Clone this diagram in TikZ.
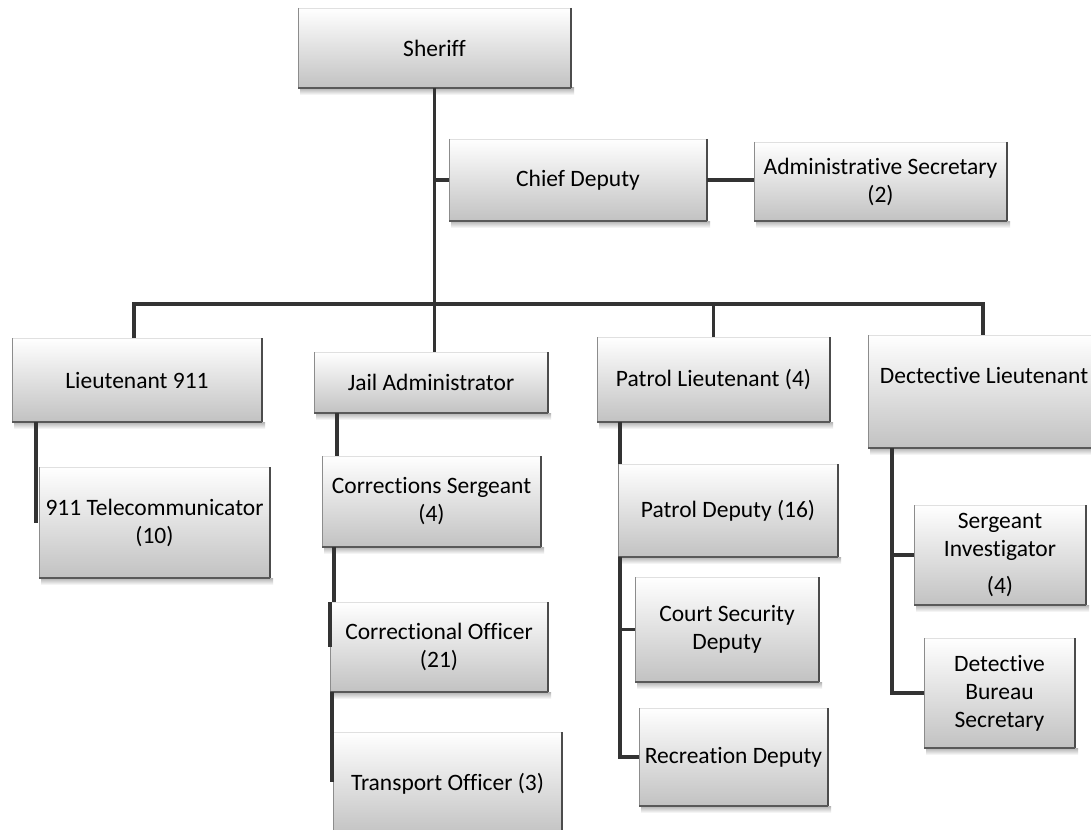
\documentclass[tikz,border=0pt]{standalone}
\usepackage{fontspec}
\setmainfont{Carlito}[Ligatures=NoCommon]
\tikzset{
  orgnode/.style={rectangle, inner sep=0pt, outer sep=0pt, align=center,
    top color=white, bottom color=black!24,
    font=\fontsize{23.5}{28}\selectfont, text=black},
  conn/.style={draw=black!80, line width=3.5pt},
  edgeR/.style={draw=black!70, line width=1.3pt},
  edgeL/.style={draw=black!45, line width=0.9pt},
  edgeT/.style={draw=black!12, line width=0.6pt},
  edgeB/.style={draw=black!65, line width=1.6pt},
  shadowband/.style={top color=black!30, bottom color=white},
}
\newcommand\orgbox[6]{%
  \shade[shadowband] (#2+2,#5) rectangle (#4+3,#5+7);
  \node[orgnode, minimum width={(#4-#2)*1pt}, minimum height={(#5-#3)*1pt}] (#1) at ({(#2+#4)/2},{(#3+#5)/2}) {#6};
  \draw[edgeT] (#1.north west) -- (#1.north east);
  \draw[edgeL] (#1.north west) -- (#1.south west);
  \draw[edgeR] (#1.north east) -- (#1.south east);
  \draw[edgeB] (#1.south west) -- (#1.south east);
}
\begin{document}
\begin{tikzpicture}[x=1pt,y=-1pt]
\useasboundingbox (0,0) rectangle (1091,829);
\clip (0,0) rectangle (1091,829);
\fill[white] (0,0) rectangle (1091,829);

\orgbox{sheriff}{298}{8}{571}{88}{Sheriff}
\orgbox{chief}{449}{139}{707}{221}{Chief Deputy}
\orgbox{admin}{754}{142}{1007}{221}{Administrative Secretary\\(2)}
\orgbox{lt911}{12}{338}{262}{422}{Lieutenant 911}
\orgbox{jail}{314}{352}{548}{413}{Jail Administrator}
\orgbox{patrol}{597}{337}{830}{422}{Patrol Lieutenant (4)}
\orgbox{det}{868}{335}{1100}{448}{Dectective Lieutenant\\\phantom{(}}
\orgbox{tele}{39}{467}{270}{578}{911 Telecommunicator\\(10)}
\orgbox{corrsgt}{322}{456}{541}{547}{Corrections Sergeant\\(4)}
\orgbox{corroff}{330}{602}{548}{692}{Correctional Officer\\(21)}
\orgbox{transport}{333}{732}{562}{836}{Transport Officer (3)}
\orgbox{pd}{618}{464}{838}{557}{Patrol Deputy (16)}
\orgbox{court}{635}{577}{819}{682}{Court Security\\Deputy}
\orgbox{rec}{639}{708}{828}{806}{Recreation Deputy}
\orgbox{sgtinv}{914}{505}{1086}{605}{Sergeant\\Investigator\\[9pt](4)}
\orgbox{detbur}{924}{638}{1075}{748}{Detective\\Bureau\\Secretary}

% top level
\coordinate (busL) at (134,304);
\coordinate (busR) at (983,304);
\draw[conn] (sheriff.south) -- (sheriff.south |- jail.north);
\draw[conn] (sheriff.south |- chief.west) -- (chief.west);
\draw[conn] (chief.east) -- (admin.west |- chief.east);
\draw[conn] (lt911.north -| busL) -- (busL) -- (busR) -- (det.north -| busR);
\draw[conn] (patrol.north) -- (patrol.north |- busL);

% 911 column
\coordinate (telv) at (36,523);
\draw[conn] (lt911.south -| telv) -- (telv);

% jail column
\coordinate (jv) at (337,0);
\coordinate (cv) at (334,0);
\coordinate (tv) at (332,782);
\draw[conn] (jail.south -| jv) -- (corrsgt.north -| jv);
\draw[conn] (corrsgt.south -| cv) -- (corroff.north -| cv);
\draw[conn] (corroff.north west) -- ++(0,45);
\draw[conn] (corroff.south -| tv) -- (tv);

% patrol column
\coordinate (pv) at (620,0);
\draw[conn] (patrol.south -| pv) -- (pd.north -| pv);
\draw[conn] (pd.south -| pv) -- (pv |- rec.west) -- (rec.west);
\draw[conn] (pv |- court.west) -- (court.west);

% detective column
\coordinate (dv) at (892,0);
\draw[conn] (det.south -| dv) -- (dv |- detbur.west) -- (detbur.west);
\draw[conn] (dv |- sgtinv.west) -- (sgtinv.west);
\end{tikzpicture}
\end{document}
